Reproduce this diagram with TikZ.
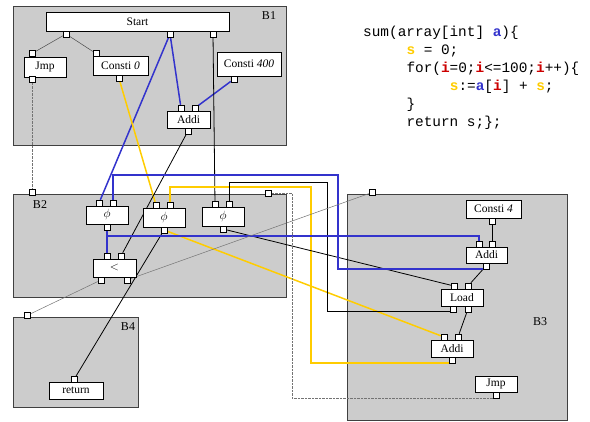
\documentclass[tikz,border=0pt]{standalone}
\usepackage{fontspec}
\setmainfont{Liberation Serif}
\newfontfamily\codefont{Liberation Mono}
\usetikzlibrary{calc}
\definecolor{cblue}{RGB}{51,51,204}
\definecolor{cyellow}{RGB}{255,204,0}
\definecolor{cred}{RGB}{204,0,0}
\definecolor{blockgray}{RGB}{204,204,204}
\newcommand{\codeS}{\textbf{\color{cyellow}s}}
\newcommand{\codeI}{\textbf{\color{cred}i}}
\newcommand{\codeA}{\textbf{\color{cblue}a}}
\pgfdeclarelayer{bg}
\pgfdeclarelayer{wires}
\pgfsetlayers{bg,wires,main}
\begin{document}
\begin{tikzpicture}[x=1pt,y=-1pt,
  font=\fontsize{11.5}{13}\selectfont,
  block/.style={fill=blockgray, draw=black!75, line width=1pt},
  op/.style={draw=black, fill=white, line width=0.9pt, inner sep=0pt},
  port/.style={draw=black, fill=white, line width=0.6pt, inner sep=0pt, minimum size=5.8pt},
  ctl/.style={draw=black!70, line width=0.5pt},
  bw/.style={draw=cblue, line width=1.5pt},
  yw/.style={draw=cyellow, line width=1.5pt},
  kw/.style={draw=black, line width=0.8pt},
  gw/.style={draw=black!55, line width=0.5pt},
  dashwire/.style={draw=black!55, line width=0.5pt, dash pattern=on 2.5pt off 1pt},
  blabel/.style={font=\fontsize{12}{14}\selectfont, inner sep=0pt},
  codeline/.style={anchor=base west, inner sep=0pt, font=\codefont\fontsize{14.4}{17}\selectfont}
]
\useasboundingbox (0,0) rectangle (590,422);

% ---------- blocks ----------
\begin{pgfonlayer}{bg}
\path[block] (13,7) rectangle (286,146);
\path[block] (13,195) rectangle (286,298);
\path[block] (347,195) rectangle (567,421);
\path[block] (13,318) rectangle (138,408);
\end{pgfonlayer}
\node[blabel] (lb1) at (269,16) {B1};
\node[blabel] (lb2) at (40,205) {B2};
\node[blabel] (lb3) at (540,322) {B3};
\node[blabel] (lb4) at (128,327) {B4};

% ---------- B1 ----------
\node[op, minimum width=183pt, minimum height=19pt] (start) at (137.5,21.5) {Start};
\node[op, minimum width=42pt, minimum height=20pt] (jmp1) at (45,67) {Jmp};
\node[op, minimum width=55pt, minimum height=19pt] (c0) at (120.5,65.5) {Consti \textit{0}};
\node[op, minimum width=64pt, minimum height=24pt] (c400) at (249,64) {Consti \textit{400}};
\node[op, minimum width=43pt, minimum height=17pt] (addi1) at (188.5,119.5) {Addi};
\node[port] (s1) at (66,34) {};
\node[port] (s2) at (170,34) {};
\node[port] (s3) at (213,34) {};
\node[port] (jmp1T) at (32,53.5) {};
\node[port] (jmp1B) at (32,79.5) {};
\node[port] (c0T) at (96,53.5) {};
\node[port] (c0B) at (119,78.5) {};
\node[port] (c400B) at (234,79) {};
\node[port] (a1L) at (181,108) {};
\node[port] (a1R) at (195,108) {};
\node[port] (a1B) at (188,131) {};

% ---------- B2 ----------
\node[port] (b2p1) at (32,192.5) {};
\node[port] (b2p2) at (268,193) {};
\node[op, minimum width=42pt, minimum height=18pt] (phi1) at (107,215) {$\phi$};
\node[op, minimum width=42pt, minimum height=19pt] (phi2) at (164,217.5) {$\phi$};
\node[op, minimum width=42pt, minimum height=19pt] (phi3) at (223,216.5) {$\phi$};
\node[op, minimum width=43pt, minimum height=18pt] (lt) at (114.5,268) {$<$};
\node[port] (phi1L) at (99,203) {};
\node[port] (phi1R) at (113,203) {};
\node[port] (phi1B) at (107,227) {};
\node[port] (phi2L) at (156,205) {};
\node[port] (phi2R) at (170,205) {};
\node[port] (phi2B) at (164,230) {};
\node[port] (phi3L) at (215,204) {};
\node[port] (phi3R) at (229,204) {};
\node[port] (phi3B) at (223,229) {};
\node[port] (ltL) at (107,256) {};
\node[port] (ltR) at (121,256) {};
\node[port] (ltBL) at (101,280) {};
\node[port] (ltBR) at (127,280) {};

% ---------- B4 ----------
\node[port] (b4p) at (27,315.5) {};
\node[op, minimum width=54pt, minimum height=17pt] (ret) at (76,390.5) {return};
\node[port] (retT) at (74,379.5) {};

% ---------- B3 ----------
\node[port] (b3p) at (372,192.5) {};
\node[op, minimum width=55pt, minimum height=18pt] (c4) at (493.5,209) {Consti \textit{4}};
\node[op, minimum width=41pt, minimum height=16pt] (a3a) at (486.5,255) {Addi};
\node[op, minimum width=42pt, minimum height=17pt] (load) at (462,297.5) {Load};
\node[op, minimum width=42pt, minimum height=17pt] (a3b) at (452,348.5) {Addi};
\node[op, minimum width=42pt, minimum height=16pt] (jmp3) at (496,384) {Jmp};
\node[port] (c4B) at (492,221) {};
\node[port] (a3aL) at (479,244) {};
\node[port] (a3aR) at (492,244) {};
\node[port] (a3aB) at (486,266) {};
\node[port] (loadL) at (454,286) {};
\node[port] (loadR) at (468,286) {};
\node[port] (loadBL) at (453,309) {};
\node[port] (loadBR) at (468,309) {};
\node[port] (a3bL) at (444,337) {};
\node[port] (a3bR) at (458,337) {};
\node[port] (a3bB) at (452,360) {};
\node[port] (jmp3B) at (496,395) {};

% ---------- wires ----------
\begin{pgfonlayer}{wires}
\draw[ctl] (s1) -- (jmp1T);
\draw[ctl] (s1) -- (c0T);
\draw[bw] (s2) -- (a1L);
\draw[bw] (s2) -- (phi1L);
\draw[bw] (c400B) -- (a1R);
\draw[kw] (s3) -- (phi3L);
\draw[yw] (c0B) -- (phi2L);
\draw[kw] (a1B) -- (ltR);
\draw[dashwire] (jmp1B) -- (b2p1);
\draw[kw] (phi2B) -- (retT);
\draw[yw] (phi2B) -- (a3bL);
\draw[yw] (a3bB) |- (311,363) -- (311,187) -| (phi2R);
\draw[kw] (phi3B) -- (loadL);
\draw[kw] (loadBL) |- (327,311) -- (327,182) -| (phi3R);
\draw[kw] (loadBR) -- (a3bR);
\draw[kw] (c4B) -- (a3aR);
\draw[kw] (a3aB) -- (loadR);
\draw[bw] (a3aB) |- (338,269) -- (338,175) -| (phi1R);
\draw[bw] (phi1B) -- (ltL);
\draw[bw] (phi1B) |- (479,236) -- (a3aL);
\draw[gw] (ltBL) -- (b4p);
\draw[gw] (ltBR) -- (b3p);
\draw[dashwire] (jmp3B) |- (292,398) -- (292,193) -- (b2p2);
\end{pgfonlayer}

% ---------- code ----------
\node[codeline] (code1) at (363,36.7) {sum(array[int] \codeA)\{};
\node[codeline] (code2) at (406.3,54.6) {\codeS{} = 0;};
\node[codeline] (code3) at (406.3,72.5) {for(\codeI=0;\codeI<=100;\codeI++)\{};
\node[codeline] (code4) at (449.7,90.4) {\codeS:=\codeA[\codeI] + \codeS;};
\node[codeline] (code5) at (406.3,108.3) {\}};
\node[codeline] (code6) at (406.3,126.2) {return s;\};};
\end{tikzpicture}
\end{document}
